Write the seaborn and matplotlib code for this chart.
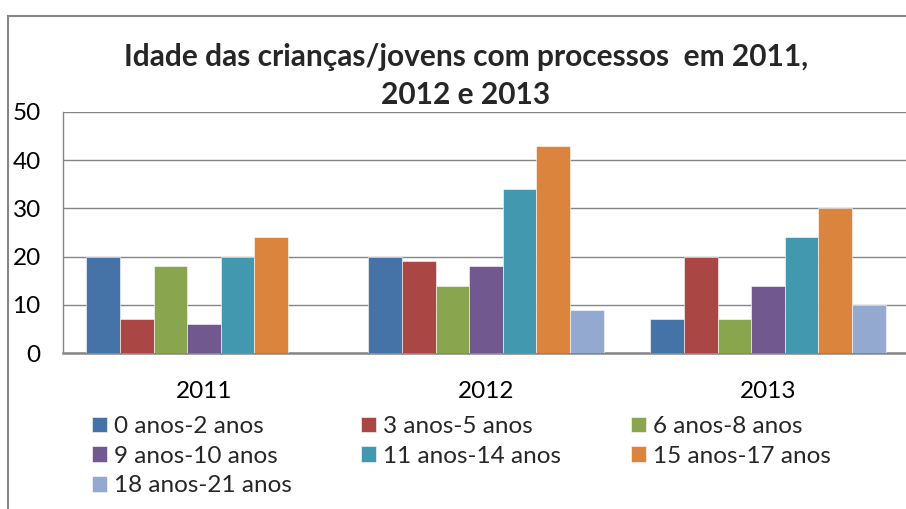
import pandas as pd
import numpy as np
import matplotlib
matplotlib.use("Agg")
import matplotlib.pyplot as plt
from matplotlib.patches import Rectangle
import seaborn as sns

# data
years = ["2011", "2012", "2013"]
age_groups = ["0 anos-2 anos", "3 anos-5 anos", "6 anos-8 anos", "9 anos-10 anos",
              "11 anos-14 anos", "15 anos-17 anos", "18 anos-21 anos"]
v_0_2 = [20, 20, 7]
v_3_5 = [7, 19, 20]
v_6_8 = [18, 14, 7]
v_9_10 = [6, 18, 14]
v_11_14 = [20, 34, 24]
v_15_17 = [24, 43, 30]
v_18_21 = [np.nan, 9, 10]
colors = ["#4572A7", "#AA4643", "#89A54E", "#71588F", "#4198AF", "#DB843D", "#93A9CF"]

series = [v_0_2, v_3_5, v_6_8, v_9_10, v_11_14, v_15_17, v_18_21]
rows = []
for grp, vals in zip(age_groups, series):
    for yr, v in zip(years, vals):
        rows.append({"ano": yr, "idade": grp, "valor": v})
df = pd.DataFrame(rows).dropna()

sns.set_style("white")
plt.rcParams['font.family'] = ['Lato', 'DejaVu Sans']
FS = 17.5

fig = plt.figure(figsize=(9.06, 5.09), dpi=100)
ax = fig.add_axes([63/906, 1-353/509, (909-63)/906, (353-112)/509])

sns.barplot(data=df, x="ano", y="valor", hue="idade", order=years, hue_order=age_groups,
            palette=colors, width=0.835, gap=0, edgecolor="white", linewidth=0.4,
            saturation=1, errorbar=None, ax=ax, zorder=3)

ax.set_xlim(-0.5, 2.5)
ax.set_ylim(0, 50)
ax.set_yticks(range(0, 51, 10))
ax.yaxis.grid(True, color="#868686", linewidth=1.0)
ax.set_axisbelow(True)
ax.set_xlabel("")
ax.set_ylabel("")
ax.tick_params(axis="both", length=0, labelsize=FS, colors="black")
ax.tick_params(axis="y", pad=16)
ax.tick_params(axis="x", pad=20)
for s in ["top", "right"]:
    ax.spines[s].set_visible(False)
ax.spines["left"].set_color("#868686")
ax.spines["left"].set_linewidth(1.0)
ax.spines["bottom"].set_color("#868686")
ax.spines["bottom"].set_linewidth(1.8)

fig.text(466/906, 1-57/509, "Idade das crianças/jovens com processos  em 2011,",
         ha="center", va="center", fontsize=21.5, fontweight="bold")
fig.text(466/906, 1-95/509, "2012 e 2013",
         ha="center", va="center", fontsize=21.5, fontweight="bold")

# legend laid out row by row like the original: one legend per column
handles, labels = ax.get_legend_handles_labels()
ax.get_legend().remove()
col_x = [92, 361, 631]
for c in range(3):
    idx = list(range(c, len(labels), 3))
    leg = fig.legend([handles[i] for i in idx], [labels[i] for i in idx],
                     loc="upper left", bbox_to_anchor=(col_x[c]/906, 1-416/509),
                     frameon=False, fontsize=FS, handlelength=0.62, handleheight=0.62,
                     handletextpad=0.3, labelspacing=0.36, borderpad=0, borderaxespad=0)

# outer chart border (left and top visible)
fig.patches.append(Rectangle((8/906, -0.1), 1.2, 1 - 16/509 + 0.1, transform=fig.transFigure,
                             fill=False, edgecolor="#868686", linewidth=1.5))

fig.savefig("out.png", dpi=100)
